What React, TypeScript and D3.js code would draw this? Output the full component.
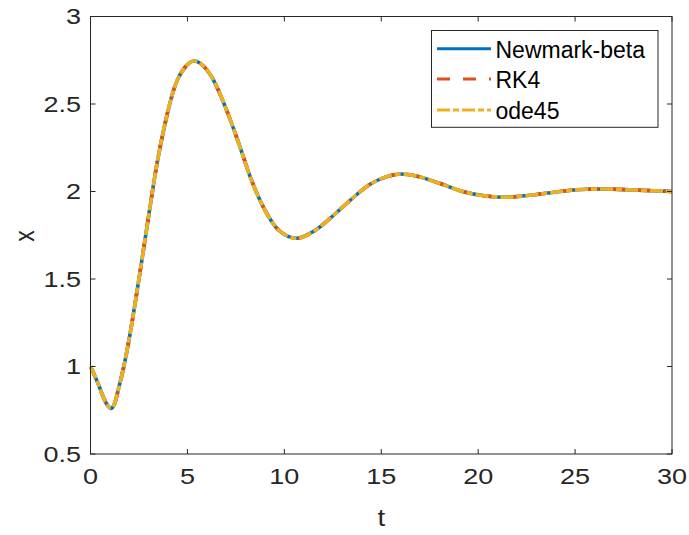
import React from "react";
import * as d3 from "d3";

// time axis samples and response (all three solvers coincide)
const timeSteps = [
  0, 0.4, 0.7, 0.9, 1.05, 1.25, 1.45, 1.7, 1.95, 2.5, 3.0, 3.4, 3.85, 4.35, 4.9,
  5.35, 5.8, 6.25, 6.95, 7.65, 8.3, 9.0, 9.7, 10.65, 11.55, 12.5, 13.4, 14.4,
  15.3, 16.0, 16.8, 18.0, 19.2, 20.4, 21.3, 22.8, 24.2, 25.6, 26.6, 28.0, 30.0,
];
const displacement = [
  1.0, 0.9, 0.815, 0.775, 0.76, 0.79, 0.875, 0.99, 1.13, 1.5, 1.86, 2.14, 2.39,
  2.6, 2.713, 2.746, 2.72, 2.656, 2.485, 2.275, 2.066, 1.894, 1.78, 1.733,
  1.775, 1.86, 1.95, 2.04, 2.085, 2.1, 2.089, 2.047, 2.0, 1.974, 1.967, 1.98,
  2.0, 2.013, 2.014, 2.009, 2.0,
];

const seriesNames = ["Newmark-beta", "RK4", "ode45"];
const seriesColors = ["#0072BD", "#D95319", "#EDB120"];
const seriesDashes = [null, "13,13", "13,3,6,3"];

const xTicks = [0, 5, 10, 15, 20, 25, 30];
const yTicks = [0.5, 1, 1.5, 2, 2.5, 3];

const W = 689;
const H = 535;
const left = 90.5;
const right = 672;
const top = 16.5;
const bottom = 454;
const axisColor = "#262626";
const font = "'Liberation Sans', Arial, Helvetica, sans-serif";

export default function App() {
  const x = d3.scaleLinear().domain([0, 30]).range([left, right]);
  const y = d3.scaleLinear().domain([0.5, 3]).range([bottom, top]);

  const points = timeSteps.map((t, i) => [t, displacement[i]] as [number, number]);
  const line = d3
    .line<[number, number]>()
    .x((d) => x(d[0]))
    .y((d) => y(d[1]))
    .curve(d3.curveMonotoneX);
  const pathD = line(points) || "";

  const tick = 5;
  const legendX = 431.5;
  const legendY = 30.5;
  const rowY = [48.7, 79, 110];

  return (
    <svg
      width={W}
      height={H}
      style={{ position: "absolute", left: 0, top: 0, background: "#fff" }}
      fontFamily={font}
    >
      <rect x={0} y={0} width={W} height={H} fill="#fff" />

      {/* data */}
      {seriesNames.map((name, i) => (
        <path
          key={name}
          d={pathD}
          fill="none"
          stroke={seriesColors[i]}
          strokeWidth={3.6}
          strokeDasharray={seriesDashes[i] || undefined}
        />
      ))}

      {/* axes box */}
      <rect
        x={left}
        y={top}
        width={right - left}
        height={bottom - top}
        fill="none"
        stroke={axisColor}
        strokeWidth={1}
      />
      {xTicks.map((t) => (
        <g key={"xt" + t}>
          <line x1={x(t)} x2={x(t)} y1={bottom} y2={bottom - tick} stroke={axisColor} />
          <line x1={x(t)} x2={x(t)} y1={top} y2={top + tick} stroke={axisColor} />
          <text
            transform={`translate(${x(t)},${476}) scale(1.2,1)`}
            textAnchor="middle"
            dominantBaseline="central"
            fontSize={22.5}
            fill={axisColor}
          >
            {t}
          </text>
        </g>
      ))}
      {yTicks.map((v) => (
        <g key={"yt" + v}>
          <line x1={left} x2={left + tick} y1={y(v)} y2={y(v)} stroke={axisColor} />
          <line x1={right} x2={right - tick} y1={y(v)} y2={y(v)} stroke={axisColor} />
          <text
            transform={`translate(${81},${y(v)}) scale(1.2,1)`}
            textAnchor="end"
            dominantBaseline="central"
            fontSize={22.5}
            fill={axisColor}
          >
            {v}
          </text>
        </g>
      ))}

      {/* axis labels */}
      <text
        transform={`translate(${(left + right) / 2},${518}) scale(1.2,1)`}
        textAnchor="middle"
        dominantBaseline="central"
        fontSize={23}
        fill={axisColor}
      >
        t
      </text>
      <text
        transform={`translate(${24},${236}) rotate(-90) scale(1,1.2)`}
        textAnchor="middle"
        dominantBaseline="central"
        fontSize={23}
        fill={axisColor}
      >
        x
      </text>

      {/* legend */}
      <rect
        x={legendX}
        y={legendY}
        width={658 - legendX}
        height={127.3 - legendY}
        fill="#fff"
        stroke={axisColor}
        strokeWidth={1}
      />
      {seriesNames.map((name, i) => (
        <g key={"lg" + name}>
          <line
            x1={437}
            x2={491}
            y1={rowY[i]}
            y2={rowY[i]}
            stroke={seriesColors[i]}
            strokeWidth={3}
            strokeDasharray={seriesDashes[i] || undefined}
          />
          <text
            x={495.5}
            y={rowY[i] + 1}
            dominantBaseline="central"
            fontSize={23}
            fill="#000"
          >
            {name}
          </text>
        </g>
      ))}
    </svg>
  );
}
